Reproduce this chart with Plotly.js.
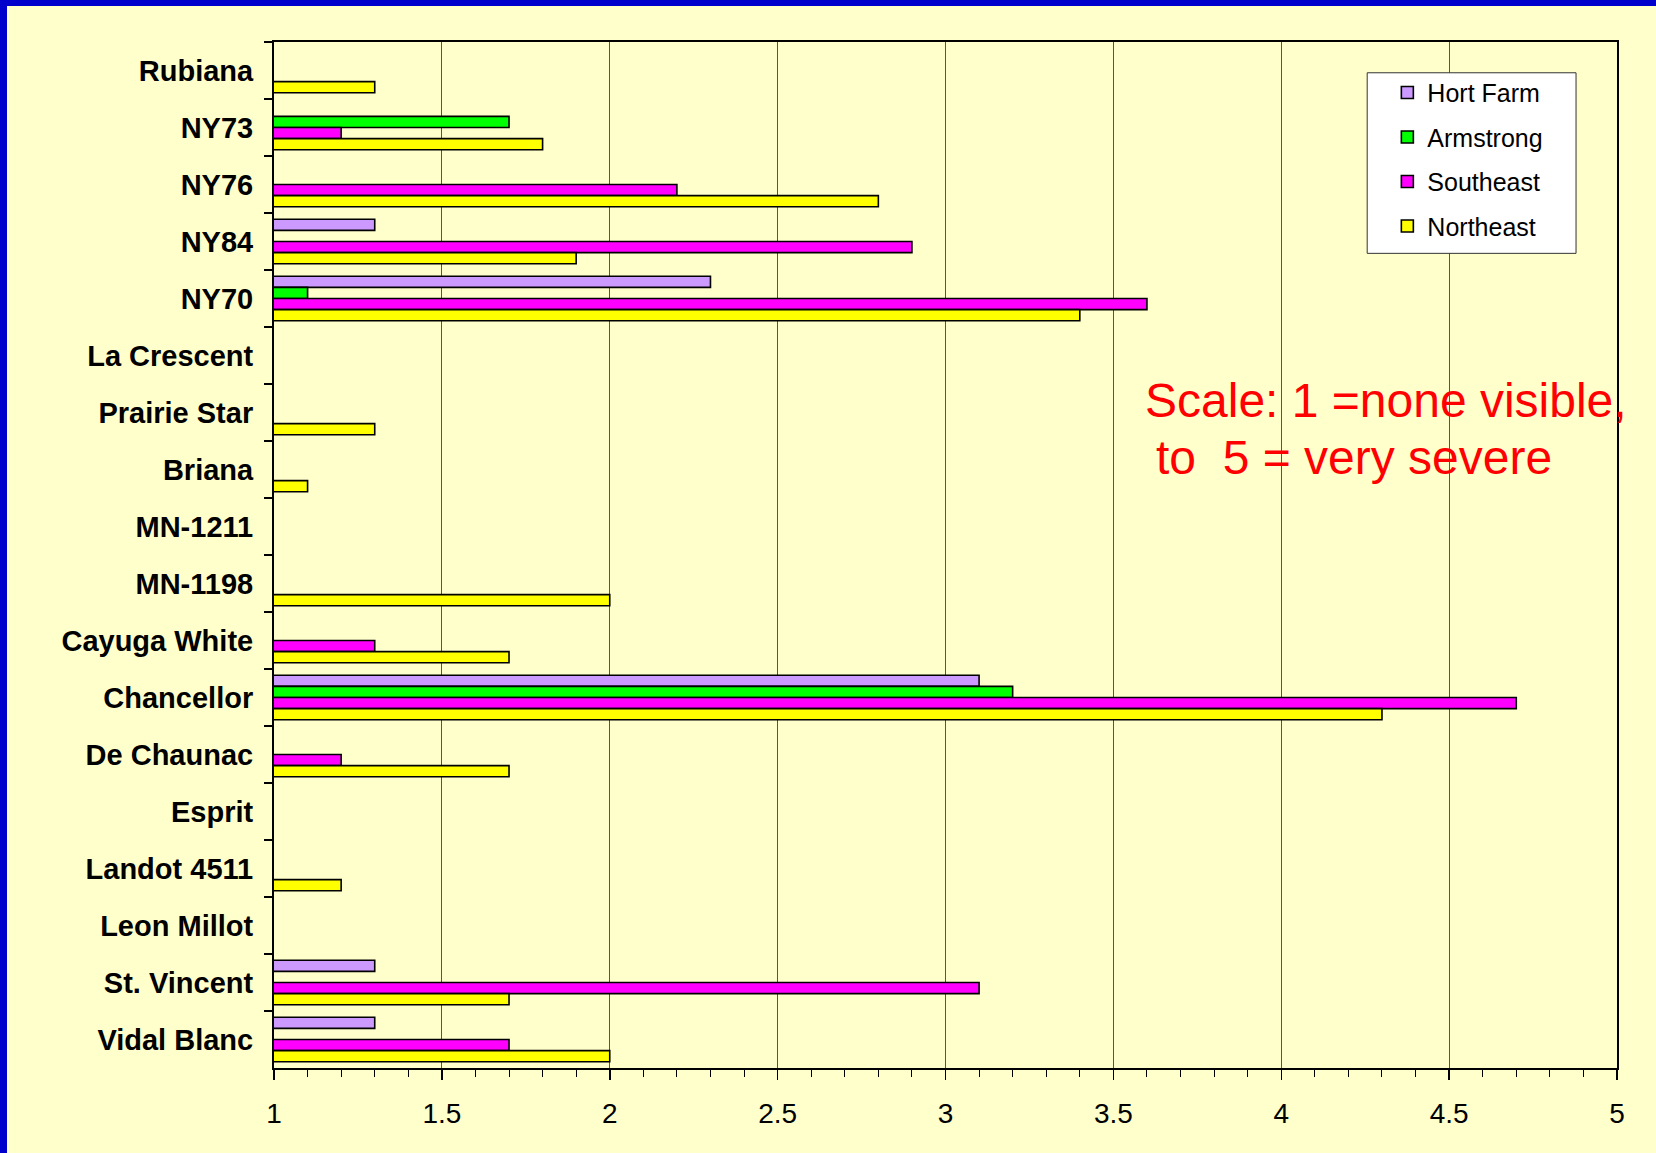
<!DOCTYPE html>
<html>
<head>
<meta charset="utf-8">
<script src="https://cdn.plot.ly/plotly-3.0.1.min.js"></script>
<style>
  html, body { margin: 0; padding: 0; background: #FFFFCC; }
  #frame { position: absolute; left: 0; top: 0; width: 1649px; height: 1147px;
           border-left: 7px solid #0000CC; border-top: 6px solid #0000CC; background: #FFFFCC; }
  #chart { width: 1649px; height: 1147px; }
</style>
</head>
<body>
<div id="frame"><div id="chart"></div></div>
<script>
// Categories, listed top to bottom as in the chart
const varieties = ["Rubiana", "NY73", "NY76", "NY84", "NY70", "La Crescent", "Prairie Star",
  "Briana", "MN-1211", "MN-1198", "Cayuga White", "Chancellor", "De Chaunac", "Esprit",
  "Landot 4511", "Leon Millot", "St. Vincent", "Vidal Blanc"];

// Severity ratings (1 = none visible, 5 = very severe); null = no bar
const hortFarm  = [null, null, null, 1.3, 2.3, null, null, null, null, null, null, 3.1, null, null, null, null, 1.3, 1.3];
const armstrong = [null, 1.7, null, null, 1.1, null, null, null, null, null, null, 3.2, null, null, null, null, null, null];
const southeast = [null, 1.2, 2.2, 2.9, 3.6, null, null, null, null, null, 1.3, 4.7, 1.2, null, null, null, 3.1, 1.7];
const northeast = [1.3, 1.8, 2.8, 1.9, 3.4, null, 1.3, 1.1, null, 2.0, 1.7, 4.3, 1.7, null, 1.2, null, 1.7, 2.0];

const seriesNames = ["Hort Farm", "Armstrong", "Southeast", "Northeast"];
const seriesValues = [hortFarm, armstrong, southeast, northeast];
const seriesColors = ["#CC99FF", "#00FF00", "#FF00FF", "#FFFF00"];

const xTickValues = [1, 1.5, 2, 2.5, 3, 3.5, 4, 4.5, 5];

const noteLine1 = "Scale: 1 =none visible,";
const noteLine2 = "to\u00A0 5 = very severe";

const FONT = '"Liberation Sans", Arial, sans-serif';

const traces = seriesNames.map((name, i) => ({
  type: 'bar',
  orientation: 'h',
  name: name,
  legendgroup: name,
  y: varieties,
  x: seriesValues[i],
  marker: { color: seriesColors[i], line: { color: '#000000', width: 1.6 } },
  hoverinfo: 'x+y+name'
}));

const layout = {
  width: 1649,
  height: 1147,
  paper_bgcolor: '#FFFFCC',
  plot_bgcolor: '#FFFFCC',
  margin: { l: 267, r: 39, t: 36, b: 85 },
  barmode: 'group',
  bargap: 0.22,
  bargroupgap: 0,
  font: { family: FONT, color: '#000000' },
  showlegend: true,
  legend: {
    x: 0.829, y: 0.973, xanchor: 'left', yanchor: 'top',
    bgcolor: 'rgba(0,0,0,0)', borderwidth: 0,
    font: { family: FONT, size: 25, color: '#000000' },
    traceorder: 'grouped', tracegroupgap: 9
  },
  xaxis: {
    range: [1, 5],
    tickmode: 'array',
    tickvals: xTickValues,
    ticktext: xTickValues.map(String),
    ticks: 'outside', ticklen: 10, tickwidth: 1.5, tickcolor: '#000000',
    minor: { dtick: 0.1, tick0: 1, ticks: 'outside', ticklen: 7, tickwidth: 1, tickcolor: '#000000', showgrid: false },
    showgrid: true, gridcolor: '#555555', gridwidth: 1,
    showline: true, linecolor: '#000000', linewidth: 2, mirror: true,
    zeroline: false,
    tickfont: { family: FONT, size: 28, color: '#000000' },
    ticklabelstandoff: 9,
    fixedrange: true
  },
  yaxis: {
    type: 'category',
    categoryorder: 'array',
    categoryarray: varieties,
    autorange: 'reversed',
    tickson: 'boundaries',
    ticks: 'outside', ticklen: 8, tickwidth: 1.5, tickcolor: '#000000',
    showgrid: false,
    showline: true, linecolor: '#000000', linewidth: 2, mirror: true,
    zeroline: false,
    tickfont: { family: FONT, size: 29, color: '#000000', weight: 'bold' },
    ticklabelstandoff: 13,
    fixedrange: true
  },
  shapes: [{
    type: 'rect', xref: 'paper', yref: 'paper', layer: 'above',
    x0: 0.814, x1: 0.9695, y0: 0.794, y1: 0.970,
    fillcolor: '#FFFFFF', line: { color: '#333333', width: 1 }
  }],
  annotations: [
    { xref: 'paper', yref: 'paper', x: 0.647, y: 0.651, xanchor: 'left', yanchor: 'middle',
      text: noteLine1, showarrow: false, font: { family: FONT, size: 48, color: '#FF0000' } },
    { xref: 'paper', yref: 'paper', x: 0.655, y: 0.5955, xanchor: 'left', yanchor: 'middle',
      text: noteLine2, showarrow: false, font: { family: FONT, size: 48, color: '#FF0000' } }
  ]
};

Plotly.newPlot('chart', traces, layout, { displayModeBar: false, staticPlot: true });
</script>
</body>
</html>
